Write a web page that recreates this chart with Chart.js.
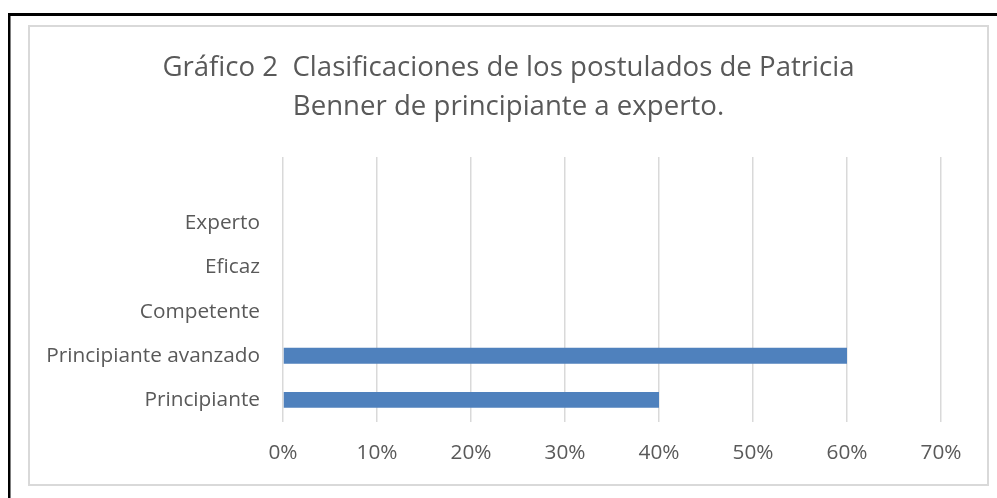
<!DOCTYPE html>
<html lang="es">
<head>
<meta charset="utf-8">
<title>Gráfico 2</title>
<script src="https://cdn.jsdelivr.net/npm/chart.js@4.4.1/dist/chart.umd.min.js"></script>
<style>
  html, body { margin: 0; padding: 0; background: #fff; }
  #caja { width: 997px; height: 498px; }
</style>
</head>
<body>
<div id="caja"><canvas id="graficaBenner" width="997" height="498"></canvas></div>
<script>
// datos del gráfico (de arriba hacia abajo)
const categorias = ['', 'Experto', 'Eficaz', 'Competente', 'Principiante avanzado', 'Principiante'];
const porcentajes = [0, 0, 0, 0, 60, 40];
const ticksEje = [0, 10, 20, 30, 40, 50, 60, 70];
const tituloLineas = ['Gráfico 2  Clasificaciones de los postulados de Patricia', 'Benner de principiante a experto.'];

const colorTexto = '#595959';
const fuente = '"Open Sans", "Noto Sans", sans-serif';

// marco y título dibujados a mano
const marco = {
  id: 'marco',
  beforeDraw(chart) {
    const ctx = chart.ctx;
    ctx.save();
    ctx.fillStyle = '#fff';
    ctx.fillRect(0, 0, chart.width, chart.height);
    ctx.fillStyle = '#000';
    ctx.fillRect(8, 13, chart.width - 8, 3);
    ctx.fillRect(8, 13, 2.5, chart.height - 13);
    ctx.strokeStyle = '#d9d9d9';
    ctx.lineWidth = 2;
    ctx.strokeRect(29, 26, 959, 459);
    ctx.restore();
  },
  afterDraw(chart) {
    const ctx = chart.ctx;
    ctx.save();
    ctx.fillStyle = colorTexto;
    ctx.font = '27.6px ' + fuente;
    ctx.textAlign = 'center';
    ctx.textBaseline = 'alphabetic';
    tituloLineas.forEach((linea, i) => ctx.fillText(linea, 508.5, 76 + i * 39));
    ctx.restore();
  }
};

new Chart(document.getElementById('graficaBenner'), {
  type: 'bar',
  data: {
    labels: categorias,
    datasets: [{
      data: porcentajes,
      backgroundColor: '#4f81bd',
      barPercentage: 0.36,
      categoryPercentage: 1
    }]
  },
  options: {
    indexAxis: 'y',
    responsive: false,
    animation: false,
    layout: { padding: { left: 28, right: 56, top: 157, bottom: 0 } },
    plugins: { legend: { display: false }, tooltip: { enabled: false }, title: { display: false } },
    scales: {
      x: {
        min: 0,
        max: 70,
        afterFit(scale) { scale.height = 76; },
        afterBuildTicks(scale) { scale.ticks = ticksEje.map(v => ({ value: v })); },
        grid: { color: '#d9d9d9', lineWidth: 1.5, drawTicks: false },
        border: { display: false },
        ticks: {
          padding: 19,
          color: colorTexto,
          font: { family: fuente, size: 20.8 },
          callback: v => v + '%'
        }
      },
      y: {
        afterFit(scale) { scale.width = 255; },
        grid: { display: false, drawTicks: false },
        border: { display: false },
        ticks: {
          padding: 23,
          color: colorTexto,
          font: { family: fuente, size: 20.8 }
        }
      }
    }
  },
  plugins: [marco]
});
</script>
</body>
</html>
